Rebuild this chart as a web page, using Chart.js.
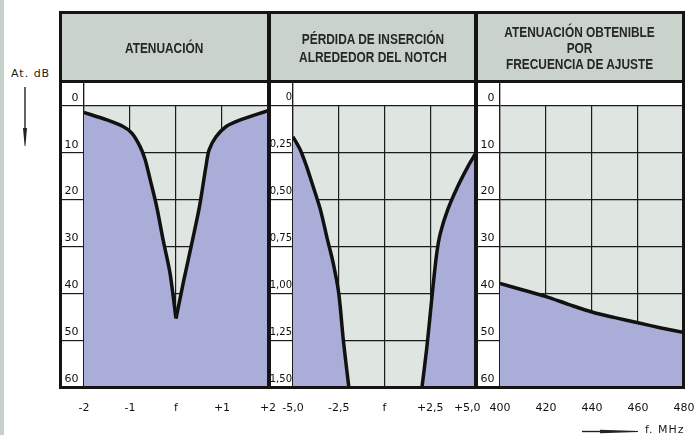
<!DOCTYPE html>
<html>
<head>
<meta charset="utf-8">
<script src="https://cdn.jsdelivr.net/npm/chart.js@4.4.1/dist/chart.umd.min.js"></script>
<style>
  html, body { margin: 0; padding: 0; background: #fff; }
  #page { position: relative; width: 696px; height: 435px; overflow: hidden; background: #fff; }
  #page canvas { position: absolute; top: 82px; }
  .strip { position: absolute; left: 0; top: 0; width: 4px; height: 435px; background: #c6d0c8; }
  .frame { position: absolute; left: 59px; top: 11px; width: 626px; height: 378px;
           border: 3px solid #141414; box-sizing: border-box; pointer-events: none; z-index: 5; }
  .head-bg { position: absolute; left: 62px; top: 14px; width: 620px; height: 67px; background: #c9d3cb; }
  .head-line { position: absolute; left: 62px; top: 80px; width: 620px; height: 3px; background: #141414; z-index: 5; }
  .divider { position: absolute; top: 12px; width: 4px; height: 376px; background: #141414; z-index: 5; }
  .title { position: absolute; top: 15px; height: 66px; display: flex; align-items: center; justify-content: center;
           text-align: center; font-family: "Liberation Sans", Arial, sans-serif;
           font-weight: bold; font-size: 14px; color: #262626; z-index: 4; }
  .title span { display: inline-block; transform: scaleX(0.85); white-space: nowrap; }
  .unit { position: absolute; font-family: "DejaVu Sans", sans-serif; font-size: 11px; letter-spacing: 1px; color: #1c1c1c; }
  svg.arrow { position: absolute; overflow: visible; }
</style>
</head>
<body>
<div id="page">
  <div class="strip"></div>
  <div class="head-bg"></div>

  <canvas id="notchChart" width="256" height="340" style="left:36px"></canvas>
  <canvas id="lossChart" width="250" height="340" style="left:250px"></canvas>
  <canvas id="tuneChart" width="240" height="340" style="left:456px"></canvas>

  <div class="title" style="left:62px; width:205px;"><span>ATENUACIÓN</span></div>
  <div class="title" style="left:271px; width:203px; line-height:18px;"><span>PÉRDIDA DE INSERCIÓN<br>ALREDEDOR DEL NOTCH</span></div>
  <div class="title" style="left:478px; width:204px; line-height:16px;"><span>ATENUACIÓN OBTENIBLE<br>POR<br>FRECUENCIA DE AJUSTE</span></div>

  <div class="frame"></div>
  <div class="head-line"></div>
  <div class="divider" style="left:267px"></div>
  <div class="divider" style="left:474px"></div>

  <div class="unit" style="left:11px; top:67px;">At. dB</div>
  <svg class="arrow" style="left:0; top:0" width="1" height="1">
    <line x1="25" y1="87" x2="25" y2="132" stroke="#222" stroke-width="1.4"/>
    <polygon points="23,128 27,128 25.4,146 24.6,146" fill="#222"/>
    <line x1="582" y1="431.5" x2="605" y2="431.5" stroke="#222" stroke-width="1.4"/>
    <polygon points="600,429.8 600,433.2 638,432 638,431" fill="#222"/>
  </svg>
  <div class="unit" style="left:645px; top:423px;">f. MHz</div>
</div>

<script>
// Panel 1: attenuation around the notch (offset in MHz from f, attenuation in dB)
const notchOffset = [-2, -1.5, -1.15, -0.96, -0.78, -0.67, -0.56, -0.42, -0.28, -0.13, 0,
                     0.17, 0.36, 0.51, 0.65, 0.72, 0.87, 1.09, 1.37, 2];
const notchAtt = [1.4, 3.0, 4.4, 5.8, 8.7, 11.5, 15.8, 21.5, 28.6, 35.7, 45.4,
                  37.2, 28.6, 21.5, 13.0, 9.4, 6.6, 4.4, 3.1, 1.0];
const notchTicks = [-2, -1, 0, 1, 2];
const notchTickLabels = ['-2', '-1', 'f', '+1', '+2'];

// Panel 2: insertion loss around the notch (dB), two branches
const lossOffsetLeft = [-5, -4.6, -4.25, -3.9, -3.5, -3.15, -2.8, -2.5, -2.25, -1.95];
const lossLeft = [0.165, 0.235, 0.325, 0.43, 0.555, 0.70, 0.84, 1.0, 1.25, 1.5];
const lossOffsetRight = [2.05, 2.3, 2.47, 2.65, 2.85, 3.05, 3.45, 4.0, 4.55, 5.0];
const lossRight = [1.5, 1.3, 1.14, 0.965, 0.79, 0.68, 0.555, 0.43, 0.325, 0.25];
const lossTicks = [-5, -2.5, 0, 2.5, 5];
const lossTickLabels = ['-5,0', '-2,5', 'f', '+2,5', '+5,0     '];
const lossYTicks = [0, 0.25, 0.5, 0.75, 1.0, 1.25, 1.5];
const lossYTickLabels = ['0', '0,25', '0,50', '0,75', '1,00', '1,25', '1,50'];

// Panel 3: attenuation obtainable vs tuning frequency
const tuneFreq = [400, 410, 420, 430, 440, 450, 460, 470, 480];
const tuneAtt = [37.9, 39.3, 40.7, 42.4, 44.0, 45.2, 46.3, 47.4, 48.4];
const tuneTicks = [400, 420, 440, 460, 480];
const tuneTickLabels = ['400', '420', '440', '460', '480'];

// shared dB axis
const dbTicks = [0, 10, 20, 30, 40, 50, 60];
const dbTickLabels = ['0', '10', '20', '30', '40', '50', '60'];

const INK = '#1c1c1c';
const PLOT_BG = '#dfe5e0';
const FILL = '#aaadd8';

const toPoints = (xs, ys) => xs.map((x, i) => ({ x, y: ys[i] }));

// grey plot background below the 0 line, blank row above it
const bandsPlugin = {
  id: 'bands',
  beforeDraw(chart) {
    const { ctx, chartArea: a, scales: { y } } = chart;
    const y0 = y.getPixelForValue(0);
    ctx.save();
    ctx.fillStyle = PLOT_BG;
    ctx.fillRect(a.left, y0, a.right - a.left, a.bottom - y0);
    ctx.restore();
  },
  afterDraw(chart) {
    const { ctx, chartArea: a, scales: { y } } = chart;
    const y0 = Math.floor(y.getPixelForValue(0));
    ctx.save();
    ctx.fillStyle = '#fff';
    ctx.fillRect(a.left + 1, a.top, a.right - a.left, y0 - a.top);
    ctx.restore();
  },
};

function curve(data, fillTo) {
  return {
    data,
    borderColor: '#111',
    borderWidth: 3.5,
    backgroundColor: FILL,
    fill: { value: fillTo },
    pointRadius: 0,
    tension: 0.3,
  };
}

function makePanel(id, datasets, opts) {
  const { xMin, xMax, xTicks, xLabels, yMin, yMax, yTicks, yLabels, padLeft, padRight, yFont } = opts;
  return new Chart(document.getElementById(id), {
    type: 'line',
    data: { datasets },
    plugins: [bandsPlugin],
    options: {
      responsive: false,
      animation: false,
      layout: { padding: { left: padLeft, right: padRight, top: 0, bottom: 0 } },
      plugins: { legend: { display: false }, tooltip: { enabled: false } },
      scales: {
        x: {
          type: 'linear',
          min: xMin,
          max: xMax,
          z: 1,
          afterBuildTicks: (s) => { s.ticks = xTicks.map((v) => ({ value: v })); },
          afterFit: (s) => { s.height = 35; s.paddingLeft = 0; s.paddingRight = 0; },
          grid: { color: INK, lineWidth: 1.2, drawTicks: false },
          border: { display: false },
          ticks: {
            padding: 15,
            maxRotation: 0,
            autoSkip: false,
            color: '#111',
            font: { family: 'DejaVu Sans', size: 11 },
            callback: (v, i) => xLabels[i],
          },
        },
        y: {
          type: 'linear',
          reverse: true,
          min: yMin,
          max: yMax,
          z: 1,
          afterBuildTicks: (s) => { s.ticks = yTicks.map((v) => ({ value: v })); },
          afterFit: (s) => { s.width = 22; s.paddingTop = 0; s.paddingBottom = 0; },
          grid: { color: INK, lineWidth: 1.2, drawTicks: true, tickLength: 22 },
          border: { display: true, color: INK, width: 1.2 },
          ticks: {
            padding: yFont.pad,
            labelOffset: -8,
            color: '#111',
            font: { family: yFont.family, size: yFont.size },
            callback: (v, i) => yLabels[i],
          },
        },
      },
    },
  });
}

function initCharts() {
  const notchPts = toPoints(notchOffset, notchAtt);
  const tip = notchAtt.indexOf(Math.max(...notchAtt));
  const dbFont = { family: 'DejaVu Sans', size: 11, pad: -16.5 };

  makePanel('notchChart',
    [curve(notchPts.slice(0, tip + 1), 60), curve(notchPts.slice(tip), 60)],
    { xMin: -2, xMax: 2, xTicks: notchTicks, xLabels: notchTickLabels,
      yMin: -5.1, yMax: 60, yTicks: dbTicks, yLabels: dbTickLabels,
      padLeft: 26, padRight: 24, yFont: dbFont });

  makePanel('lossChart',
    [curve(toPoints(lossOffsetLeft, lossLeft), 1.5), curve(toPoints(lossOffsetRight, lossRight), 1.5)],
    { xMin: -5, xMax: 5, xTicks: lossTicks, xLabels: lossTickLabels,
      yMin: -0.1275, yMax: 1.5, yTicks: lossYTicks, yLabels: lossYTickLabels,
      padLeft: 21, padRight: 24, yFont: { family: 'DejaVu Sans', size: 10, pad: -21 } });

  makePanel('tuneChart',
    [curve(toPoints(tuneFreq, tuneAtt), 60)],
    { xMin: 400, xMax: 480, xTicks: tuneTicks, xLabels: tuneTickLabels,
      yMin: -5.1, yMax: 60, yTicks: dbTicks, yLabels: dbTickLabels,
      padLeft: 22, padRight: 12, yFont: dbFont });
}

document.addEventListener('DOMContentLoaded', initCharts);
</script>
</body>
</html>
